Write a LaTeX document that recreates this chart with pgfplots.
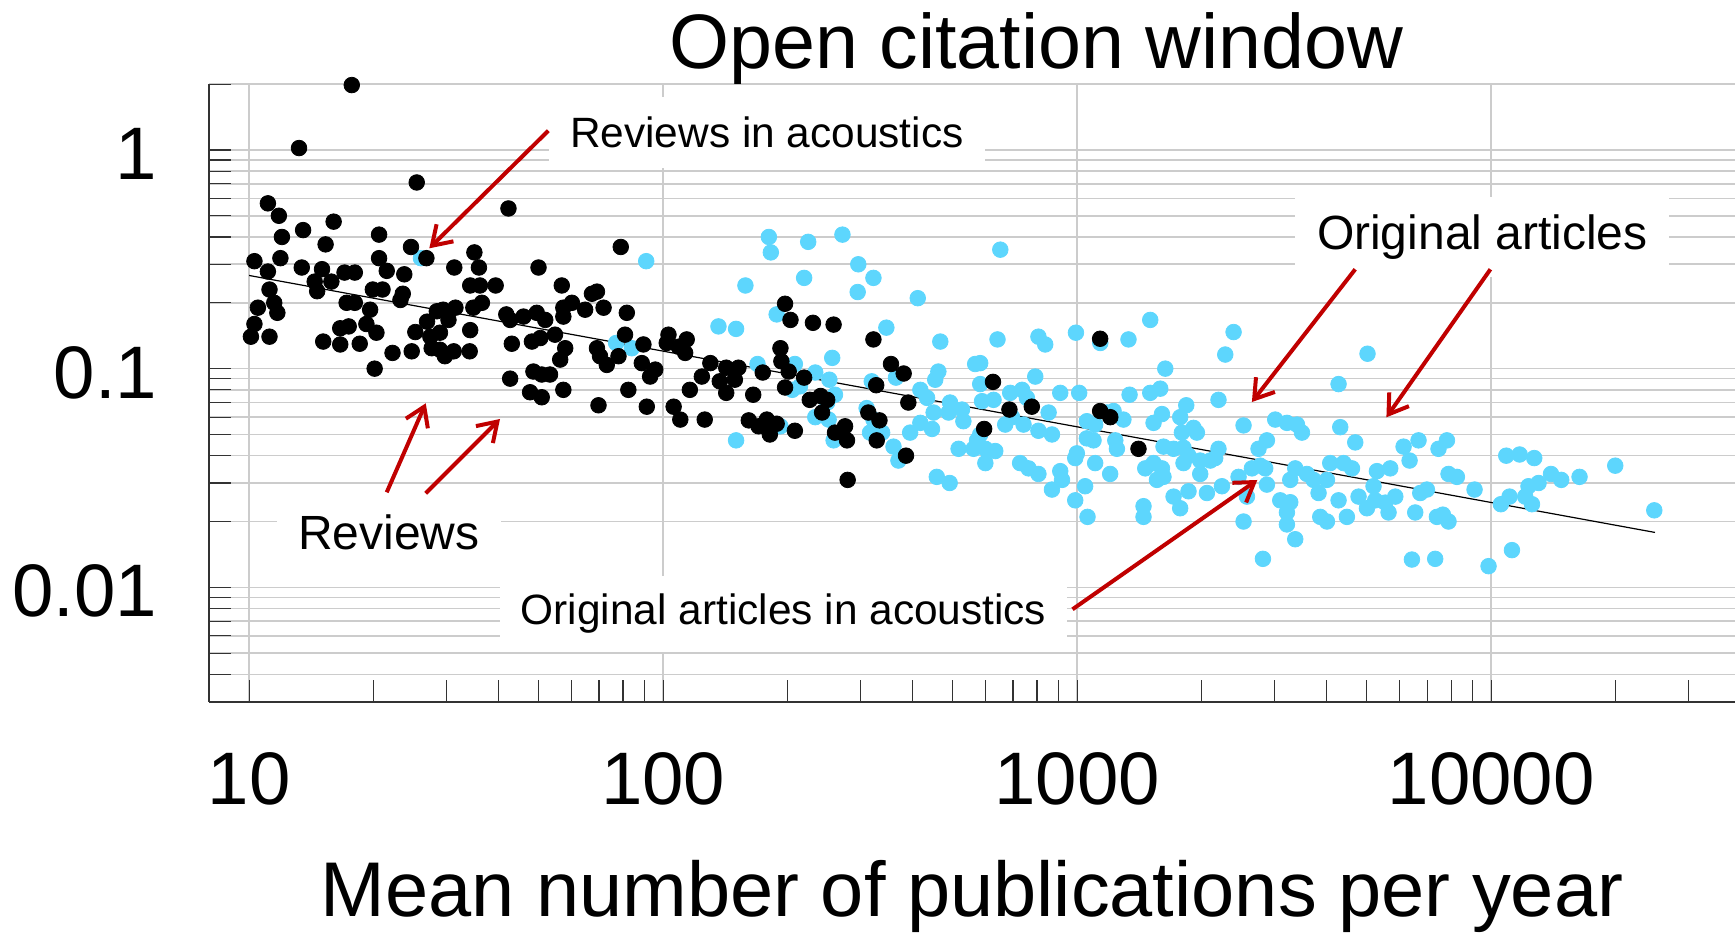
\documentclass[border=0pt]{standalone}
\usepackage{fontspec}
\setmainfont{Liberation Sans}
\usepackage{pgfplots}
\pgfplotsset{compat=1.18}
\usetikzlibrary{arrows.meta}
\definecolor{cyanc}{RGB}{93,214,253}
\definecolor{arrowred}{RGB}{192,0,0}

\pgfplotstableread{
x y
17.7 1.98
13.2 1.02
25.4 0.71
42.3 0.54
11.1 0.57
11.8 0.50
16.0 0.47
13.5 0.43
12.0 0.40
20.6 0.41
15.3 0.37
24.6 0.36
26.8 0.32
79 0.36
11.9 0.32
10.3 0.31
20.6 0.32
13.4 0.29
15.0 0.285
11.1 0.278
17.0 0.275
18.0 0.275
21.5 0.28
23.7 0.27
31.3 0.29
35.0 0.34
35.9 0.29
50 0.29
14.4 0.25
15.8 0.25
11.2 0.23
14.6 0.226
19.9 0.23
21.0 0.23
23.5 0.22
23.2 0.206
34.2 0.24
36.1 0.24
39.4 0.24
56.9 0.24
67.3 0.22
69.2 0.225
36.5 0.20
34.8 0.19
10.5 0.19
11.5 0.20
11.7 0.18
17.2 0.20
18.0 0.20
19.6 0.186
29.4 0.186
31.5 0.19
57.4 0.19
60.2 0.20
64.8 0.186
71.8 0.19
81.7 0.18
41.8 0.177
42.7 0.167
46.0 0.173
49.5 0.18
51.9 0.167
57.4 0.173
10.3 0.16
10.1 0.14
11.2 0.14
16.6 0.153
17.4 0.156
19.2 0.16
20.3 0.146
15.1 0.133
16.6 0.129
18.5 0.13
20.1 0.10
22.2 0.118
24.7 0.12
25.2 0.147
26.9 0.164
27.4 0.14
28.9 0.146
28.4 0.183
30.3 0.167
27.6 0.124
28.9 0.122
29.7 0.114
31.2 0.12
34.2 0.15
34.1 0.12
43.1 0.13
42.7 0.09
48.2 0.133
50.5 0.138
54.8 0.143
48.6 0.097
50.9 0.094
53.3 0.094
47.7 0.078
50.9 0.074
57.4 0.08
58.0 0.124
56.4 0.11
69.2 0.124
70.4 0.114
73.1 0.104
78.0 0.114
69.8 0.068
82.4 0.08
80.9 0.143
89.6 0.129
88.8 0.106
95.7 0.099
93.0 0.092
91.3 0.067
103 0.143
102 0.131
114 0.136
109 0.126
113 0.118
116 0.080
106 0.067
110 0.0585
126 0.0585
130 0.106
124 0.092
142 0.101
152 0.101
137 0.0875
149 0.089
142 0.0775
165 0.076
161 0.058
170 0.0545
178 0.0585
188 0.056
181 0.05
174 0.096
197 0.198
203 0.167
192 0.124
193 0.108
201 0.097
197 0.082
208 0.052
230 0.162
258 0.159
219 0.091
226 0.072
240 0.075
249 0.072
242 0.063
260 0.051
275 0.0545
278 0.047
279 0.031
322 0.136
327 0.084
313 0.063
333 0.058
328 0.047
355 0.105
381 0.095
391 0.070
386 0.040
626 0.087
596 0.053
686 0.065
777 0.067
1136 0.137
1136 0.064
1202 0.060
1406 0.043
}\reviews

\pgfplotstableread{
x y
26.0 0.32
91 0.31
180 0.40
182 0.34
224 0.38
271 0.41
296 0.30
322 0.26
295 0.224
219 0.26
158 0.24
412 0.21
652 0.35
188 0.177
136 0.156
150 0.152
346 0.154
467 0.133
256 0.112
567 0.105
77 0.131
84 0.124
169 0.105
208 0.105
233 0.096
252 0.089
260 0.076
249 0.070
233 0.060
251 0.0585
205 0.080
214 0.083
192 0.0545
150 0.047
258 0.047
310 0.066
322 0.0585
316 0.051
338 0.051
319 0.0875
365 0.091
360 0.044
370 0.038
395 0.051
418 0.0565
446 0.053
450 0.063
489 0.063
493 0.070
531 0.0575
527 0.065
418 0.080
434 0.0735
454 0.089
462 0.097
573 0.047
562 0.043
517 0.043
458 0.032
492 0.030
1137 0.131
1501 0.167
642 0.136
806 0.14
837 0.129
993 0.146
1330 0.136
2386 0.147
2278 0.116
5025 0.117
583 0.106
1632 0.10
792 0.092
4278 0.085
583 0.085
628 0.072
589 0.071
689 0.0775
736 0.080
756 0.0735
910 0.0775
1011 0.0775
1338 0.076
1501 0.0775
1587 0.081
2194 0.072
1834 0.068
853 0.063
742 0.0555
806 0.052
869 0.050
670 0.0555
696 0.060
583 0.05
600 0.043
634 0.042
600 0.037
1055 0.0575
1105 0.0555
1180 0.063
1224 0.064
1293 0.0585
1236 0.047
1247 0.043
1055 0.048
1095 0.047
998 0.041
989 0.039
1105 0.037
910 0.034
919 0.031
869 0.028
728 0.037
763 0.035
806 0.033
989 0.025
1045 0.029
1059 0.021
1201 0.033
1460 0.035
1529 0.037
1602 0.035
1616 0.032
1558 0.031
1616 0.044
1709 0.043
1806 0.0435
1529 0.0565
1602 0.062
1773 0.060
1790 0.051
1910 0.0536
1946 0.051
1806 0.037
1857 0.040
1982 0.038
1982 0.033
2096 0.038
2154 0.039
2194 0.043
1709 0.026
1773 0.023
1857 0.0275
2057 0.027
2236 0.029
1446 0.0235
1446 0.021
2453 0.032
2642 0.035
2767 0.036
2845 0.035
2522 0.055
2741 0.043
2872 0.047
2570 0.026
2872 0.0295
2522 0.020
2809 0.0135
3008 0.0585
3210 0.0565
3395 0.0555
3490 0.051
3270 0.031
3362 0.035
3587 0.033
3093 0.025
3270 0.0245
3210 0.022
3210 0.0194
3362 0.0166
3723 0.031
4010 0.031
3828 0.027
3864 0.021
4010 0.020
4318 0.054
4694 0.046
4084 0.037
4399 0.037
4609 0.035
4278 0.025
4481 0.021
4781 0.026
5009 0.023
5245 0.025
5295 0.034
6141 0.044
6674 0.047
6350 0.038
7458 0.043
7816 0.047
5702 0.035
5196 0.029
5546 0.0244
5649 0.022
5865 0.026
6738 0.027
6992 0.028
6553 0.022
7392 0.021
7643 0.0215
7886 0.020
7886 0.033
8261 0.032
9113 0.028
6433 0.0134
7322 0.0135
9851 0.0125
11220 0.0148
10550 0.024
11070 0.026
12080 0.026
12540 0.024
12300 0.029
13010 0.030
10870 0.040
11710 0.0405
12700 0.039
13940 0.033
14760 0.031
16340 0.032
19930 0.036
24760 0.0225
}\originals

\begin{document}
\begin{tikzpicture}
\begin{axis}[
  at={(0pt,0pt)}, anchor=south west,
  scale only axis, width=381.5pt, height=154.4pt,
  xmode=log, ymode=log,
  xmin=8, xmax=38800, ymin=0.003, ymax=2,
  axis lines*=left,
  axis line style={black!80, line width=0.45pt},
  tick align=inside,
  major tick length=5.4pt, minor tick length=5.4pt,
  tick style={black!80, line width=0.3pt},
  xtick={10,100,1000,10000},
  xticklabels={\textnormal{10},\textnormal{100},\textnormal{1000},\textnormal{10000}},
  minor xtick={20,30,40,50,60,70,80,90,200,300,400,500,600,700,800,900,2000,3000,4000,5000,6000,7000,8000,9000,20000,30000},
  ytick={0.01,0.1,1},
  yticklabels={\textnormal{0.01},\textnormal{0.1},\textnormal{1}},
  minor ytick={0.004,0.005,0.006,0.007,0.008,0.009,0.02,0.03,0.04,0.05,0.06,0.07,0.08,0.09,0.2,0.3,0.4,0.5,0.6,0.7,0.8,0.9,2},
  xmajorgrids=true, ymajorgrids=true, yminorgrids=true, xminorgrids=false,
  major grid style={gray!40, line width=0.4pt},
  minor grid style={gray!40, line width=0.4pt},
  ticklabel style={font=\fontsize{18.6pt}{22pt}\selectfont},
  xticklabel style={anchor=base, yshift=-25.8pt, inner sep=0pt},
  yticklabel style={anchor=east, xshift=-12.75pt, yshift=-1pt, inner sep=0pt},
]
\addplot[color=cyanc, only marks, mark=*, mark size=1.95pt, mark options={solid, draw=cyanc, fill=cyanc, line width=0.2pt}] table[x=x, y=y] {\originals};
\addplot[color=black, only marks, mark=*, mark size=1.95pt, mark options={solid, draw=black, fill=black, line width=0.2pt}] table[x=x, y=y] {\reviews};
\addplot[black, line width=0.3pt, no marks] coordinates {(10,0.2667) (24860,0.01783)};
\end{axis}

% title and axis label
\node[anchor=base west, inner sep=0pt, font=\fontsize{19.3pt}{23pt}\selectfont] at (114.85pt,158.28pt) {Open citation window};
\node[anchor=base, inner sep=0pt, font=\fontsize{19.4pt}{23pt}\selectfont] at (190.75pt,-53.8pt) {Mean number of publications per year};

% annotation boxes
\node[anchor=base west, fill=white, inner xsep=5.4pt, inner ysep=5pt, font=\fontsize{10.6pt}{12.5pt}\selectfont] at (84.68pt,138.6pt) {Reviews in acoustics};
\node[anchor=base west, fill=white, inner xsep=5.4pt, inner ysep=4.5pt, font=\fontsize{12pt}{14pt}\selectfont] at (271.4pt,113.1pt) {Original articles};
\node[anchor=base west, fill=white, inner xsep=5.4pt, inner ysep=5pt, font=\fontsize{12pt}{14pt}\selectfont] at (16.68pt,38.1pt) {Reviews};
\node[anchor=base west, fill=white, inner xsep=5.2pt, inner ysep=4.5pt, font=\fontsize{10.6pt}{12.5pt}\selectfont] at (72.55pt,19.18pt) {Original articles in acoustics};

% arrows
\begin{scope}[arrowred, line width=1pt, -{Straight Barb[length=4.6pt, width=6pt]}]
\draw (84.83pt,142.75pt) -- (55.08pt,113.35pt);
\draw (44.43pt,52.35pt) -- (54.18pt,74.6pt);
\draw (54.18pt,52.1pt) -- (72.75pt,70.68pt);
\draw (286.55pt,108.1pt) -- (260.73pt,74.93pt);
\draw (320.35pt,108.1pt) -- (294.35pt,71.1pt);
\draw (215.88pt,23.1pt) -- (262.08pt,55.43pt);
\end{scope}

\pgfresetboundingbox
\path[use as bounding box] (-52.25pt,-58.075pt) rectangle (381.5pt,175.425pt);
\end{tikzpicture}
\end{document}
